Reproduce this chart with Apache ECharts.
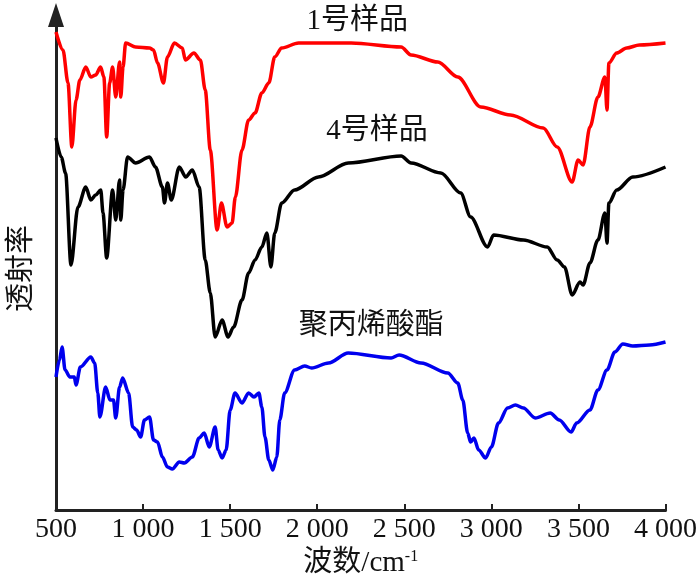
<!DOCTYPE html>
<html>
<head>
<meta charset="utf-8">
<script src="https://cdn.jsdelivr.net/npm/echarts@6/dist/echarts.min.js"></script>
<style>
  html, body { margin: 0; padding: 0; background: #fff; }
  #chart { width: 700px; height: 584px; }
</style>
</head>
<body>
<div id="chart"></div>
<script>
// 波数 (cm-1) 与 透射率 (任意单位)
const sample1 = [
  [500, 478], [540, 460], [569, 427], [591, 363], [615, 410], [637, 430], [671, 443],
  [700, 433], [728, 435], [756, 443], [775, 433], [791, 373], [808, 427], [825, 443],
  [843, 413], [865, 448], [872, 413], [885, 443], [900, 467], [957, 463], [1037, 462],
  [1060, 460], [1083, 447], [1117, 427], [1140, 453], [1180, 467], [1225, 462], [1243, 450],
  [1292, 457], [1329, 450], [1357, 420], [1386, 360], [1425, 280], [1450, 307], [1482, 283],
  [1511, 287], [1530, 313], [1568, 360], [1606, 390], [1643, 397], [1682, 417], [1722, 427],
  [1756, 453], [1796, 462], [1893, 467], [2195, 467], [2482, 463], [2539, 455], [2693, 448],
  [2807, 433], [2939, 403], [3110, 395], [3298, 382], [3378, 363], [3464, 328], [3498, 350],
  [3527, 345], [3566, 383], [3612, 413], [3652, 433], [3664, 400], [3675, 447], [3720, 457],
  [3777, 462], [3850, 465], [4000, 467]
];

const sample4 = [
  [500, 372], [530, 353], [555, 337], [586, 245], [626, 303], [671, 323], [700, 310],
  [728, 315], [757, 320], [770, 297], [791, 252], [825, 320], [843, 290], [865, 330],
  [872, 290], [885, 320], [911, 353], [957, 347], [1037, 353], [1071, 343], [1111, 323],
  [1123, 307], [1140, 327], [1162, 310], [1208, 343], [1245, 333], [1283, 340], [1322, 323],
  [1357, 250], [1386, 217], [1414, 173], [1454, 190], [1488, 173], [1520, 183], [1568, 210],
  [1606, 237], [1643, 250], [1682, 263], [1711, 277], [1734, 243], [1756, 277], [1796, 307],
  [1870, 320], [2007, 333], [2178, 347], [2482, 354], [2539, 347], [2710, 337], [2824, 317],
  [2881, 293], [2978, 263], [3013, 275], [3184, 270], [3321, 263], [3378, 250], [3420, 243],
  [3464, 215], [3509, 228], [3527, 225], [3566, 247], [3612, 270], [3652, 297], [3664, 267],
  [3675, 307], [3720, 320], [3812, 333], [4000, 343]
];

const polyacrylate = [
  [500, 133], [520, 150], [535, 163], [552, 140], [580, 133], [605, 133], [615, 125],
  [640, 143], [700, 153], [722, 147], [740, 117], [752, 93], [785, 123], [810, 110],
  [830, 110], [843, 92], [865, 123], [883, 132], [917, 117], [940, 83], [963, 80],
  [986, 73], [1008, 90], [1037, 93], [1060, 70], [1083, 68], [1111, 53], [1140, 43],
  [1168, 41], [1208, 48], [1237, 47], [1283, 53], [1322, 72], [1351, 77], [1380, 63],
  [1414, 83], [1431, 60], [1454, 52], [1477, 60], [1500, 100], [1528, 117], [1568, 107],
  [1606, 117], [1637, 113], [1665, 117], [1682, 103], [1700, 73], [1722, 50], [1745, 40],
  [1768, 53], [1785, 90], [1813, 117], [1870, 140], [1928, 144], [1968, 142], [2065, 147],
  [2178, 157], [2424, 152], [2470, 155], [2596, 147], [2750, 137], [2807, 127], [2836, 110],
  [2864, 77], [2881, 68], [2900, 72], [2927, 60], [2967, 52], [3000, 63], [3041, 87],
  [3093, 102], [3138, 105], [3184, 102], [3252, 92], [3338, 97], [3390, 90], [3458, 78],
  [3490, 87], [3566, 100], [3612, 120], [3664, 140], [3709, 158], [3755, 166], [3812, 164],
  [3909, 165], [4000, 168]
];

const seriesNames = ['1号样品', '4号样品', '聚丙烯酸酯'];
const seriesColors = ['#ff0000', '#000000', '#0000ee'];
// where each curve's name is written (data coords)
const labelAt = [[2230, 489], [2344, 379], [2310, 184]];
const xTicks = [500, 1000, 1500, 2000, 2500, 3000, 3500, 4000];

const serif = "'Liberation Serif', 'Noto Sans CJK SC', serif";

const chart = echarts.init(document.getElementById('chart'));

function makeSeries(data, i) {
  return {
    name: seriesNames[i],
    type: 'line',
    data: data,
    smooth: 0.3,
    smoothMonotone: 'x',
    symbol: 'none',
    lineStyle: { color: seriesColors[i], width: 3.5 },
    markPoint: {
      symbol: 'circle',
      symbolSize: 0,
      silent: true,
      data: [{ coord: labelAt[i] }],
      label: {
        show: true,
        position: 'inside',
        formatter: seriesNames[i],
        color: '#111',
        fontSize: 29,
        fontFamily: serif
      }
    }
  };
}

const option = {
  backgroundColor: '#fff',
  animation: false,
  grid: { left: 53, right: 34, top: 15, bottom: 74 },
  xAxis: {
    type: 'value',
    min: xTicks[0],
    max: xTicks[xTicks.length - 1],
    interval: 500,
    name: '波数/cm{sup|-1}',
    nameLocation: 'middle',
    nameGap: 36,
    nameTextStyle: {
      color: '#111',
      fontSize: 29,
      fontFamily: serif,
      rich: {
        sup: { fontSize: 16, fontFamily: serif, color: '#111', verticalAlign: 'top', padding: [0, 0, 12, 0] }
      }
    },
    axisLine: { onZero: false, lineStyle: { color: '#222', width: 3 } },
    axisTick: { inside: true, length: 6, lineStyle: { color: '#222', width: 2 } },
    axisLabel: {
      color: '#111',
      fontSize: 28,
      fontFamily: serif,
      margin: 6,
      formatter: v => String(v).replace(/(\d)(\d{3})$/, '$1 $2')
    },
    splitLine: { show: false }
  },
  yAxis: {
    type: 'value',
    min: 0,
    max: 495,
    name: '透射率',
    nameLocation: 'middle',
    nameRotate: 90,
    nameGap: 19,
    nameTextStyle: { color: '#111', fontSize: 29, fontFamily: serif, padding: [0, 12, 0, 0] },
    axisLine: {
      show: true,
      symbol: ['none', 'triangle'],
      symbolSize: [16, 24],
      lineStyle: { color: '#222', width: 3 }
    },
    axisTick: { show: false },
    axisLabel: { show: false },
    splitLine: { show: false }
  },
  series: [sample1, sample4, polyacrylate].map(makeSeries)
};

chart.setOption(option);
</script>
</body>
</html>
